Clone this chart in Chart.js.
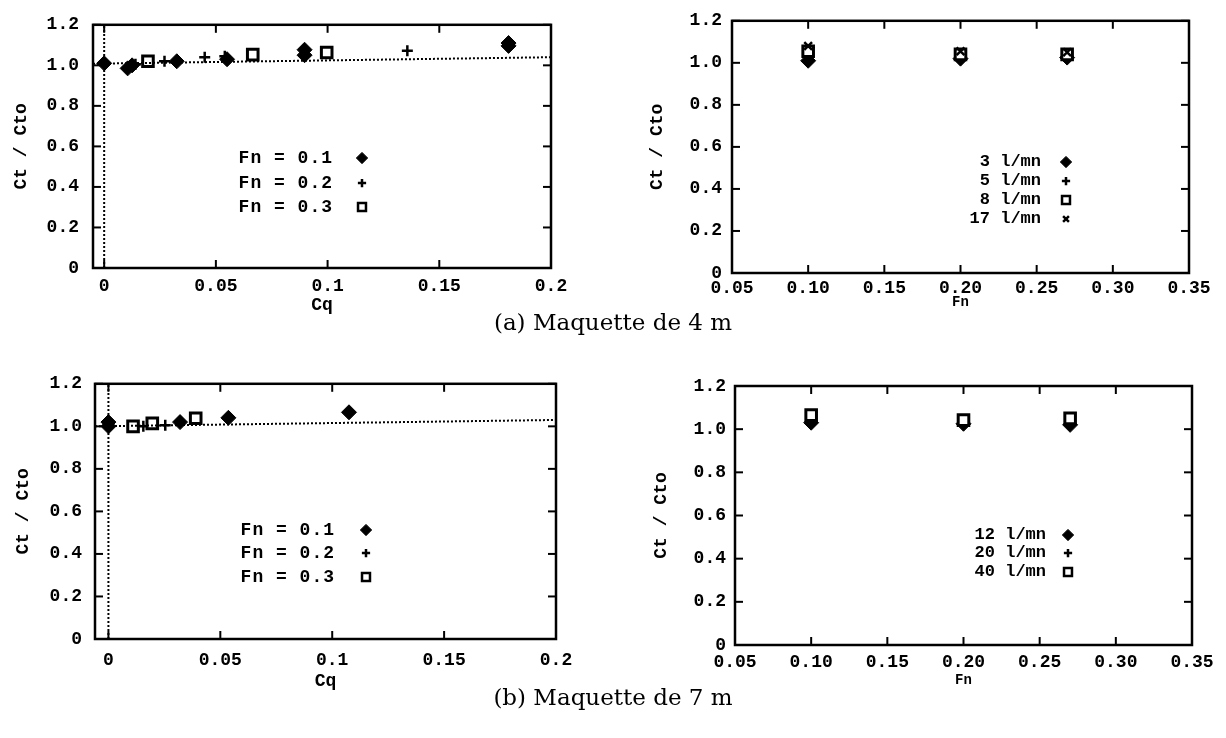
<!DOCTYPE html>
<html lang="fr">
<head>
<meta charset="utf-8">
<title>Ct / Cto</title>
<script src="https://cdn.jsdelivr.net/npm/chart.js@4.4.1/dist/chart.umd.min.js"></script>
<style>
  html, body { margin: 0; padding: 0; background: #fff; }
  body { position: relative; width: 1226px; height: 738px; overflow: hidden; }
  canvas { position: absolute; }
  .caption {
    position: absolute; left: 0; width: 1226px; text-align: center;
    font-family: "DejaVu Serif", serif; font-size: 23px; line-height: 1; color: #000;
  }
</style>
</head>
<body>
<canvas id="cq4" width="600" height="316" style="left:0;top:0"></canvas>
<canvas id="fn4" width="626" height="316" style="left:600px;top:0"></canvas>
<div class="caption" style="top:311px">(a) Maquette de 4 m</div>
<canvas id="cq7" width="600" height="332" style="left:0;top:360px"></canvas>
<canvas id="fn7" width="626" height="332" style="left:600px;top:360px"></canvas>
<div class="caption" style="top:686px">(b) Maquette de 7 m</div>

<script>
const yTicks = [0, 0.2, 0.4, 0.6, 0.8, 1.0, 1.2];
const cqTicks = [0, 0.05, 0.1, 0.15, 0.2];
const cqTickLabels = ["0", "0.05", "0.1", "0.15", "0.2"];
const fnTicks = [0.05, 0.1, 0.15, 0.2, 0.25, 0.3, 0.35];
const fnTickLabels = ["0.05", "0.10", "0.15", "0.20", "0.25", "0.30", "0.35"];

// 4 m model: Ct/Cto against Cq
const cq4Fn1 = [0, 0.0105, 0.0125, 0.0325, 0.055, 0.0897, 0.0897, 0.181, 0.181];
const ct4Fn1 = [1.01, 0.985, 1.0, 1.02, 1.03, 1.05, 1.077, 1.096, 1.11];
const cq4Fn2 = [0, 0.014, 0.027, 0.045, 0.054, 0.1357];
const ct4Fn2 = [1.01, 1.005, 1.02, 1.04, 1.045, 1.072];
const cq4Fn3 = [0.0196, 0.0665, 0.0996];
const ct4Fn3 = [1.02, 1.053, 1.063];
const trend4Cq = [-0.005, 0.2];
const trend4Ct = [1.008, 1.04];

// 7 m model: Ct/Cto against Cq
const cq7Fn1 = [0, 0, 0.032, 0.0536, 0.1075];
const ct7Fn1 = [1.0, 1.02, 1.02, 1.04, 1.066];
const cq7Fn2 = [0.0156, 0.0254];
const ct7Fn2 = [1.0, 1.005];
const cq7Fn3 = [0.011, 0.0196, 0.039];
const ct7Fn3 = [1.0, 1.014, 1.038];
const trend7Cq = [-0.006, 0.2];
const trend7Ct = [1.0, 1.03];

const zeroCq = [0, 0];
const zeroCt = [0, 1.2];

// Ct/Cto against Fn, one series per flow rate
const fnRuns = [0.10, 0.20, 0.27];
const ct4Q3 = [1.01, 1.02, 1.025];
const ct4Q5 = [1.035, 1.03, 1.035];
const ct4Q8 = [1.055, 1.04, 1.04];
const ct4Q17 = [1.08, 1.055, 1.05];
const ct7Q12 = [1.03, 1.025, 1.02];
const ct7Q20 = [1.045, 1.035, 1.035];
const ct7Q40 = [1.065, 1.042, 1.05];

const MONO = '"Liberation Mono", "DejaVu Sans Mono", monospace';
Chart.defaults.font.family = MONO;
Chart.defaults.color = "#000";

const markers = {
  diamond: { pointStyle: "rectRot", pointRadius: 7.5, pointBorderWidth: 1, pointBackgroundColor: "#000", pointBorderColor: "#000" },
  plus: { pointStyle: "cross", pointRadius: 5.5, pointBorderWidth: 2.5, pointBackgroundColor: "#000", pointBorderColor: "#000" },
  box: { pointStyle: "rect", pointRadius: 7.5, pointBorderWidth: 3, pointBackgroundColor: "#fff", pointBorderColor: "#000" },
  cross: { pointStyle: "crossRot", pointRadius: 5.5, pointBorderWidth: 2.5, pointBackgroundColor: "#000", pointBorderColor: "#000" }
};

function pairs(xs, ys) {
  return xs.map((x, i) => ({ x, y: ys[i] }));
}

function series(label, xs, ys, marker) {
  return Object.assign({ label, data: pairs(xs, ys), showLine: false, inKey: true }, markers[marker]);
}

function dottedLine(xs, ys) {
  return {
    data: pairs(xs, ys),
    showLine: true,
    borderColor: "#000",
    borderWidth: 2,
    borderDash: [2, 2],
    pointRadius: 0,
    inKey: false
  };
}

function strokeLine(ctx, x1, y1, x2, y2) {
  ctx.beginPath();
  ctx.moveTo(x1, y1);
  ctx.lineTo(x2, y2);
  ctx.stroke();
}

// box around the plot with inward tick marks on all four sides
const framePlugin = {
  id: "frame",
  afterDraw(chart) {
    const { ctx, chartArea: a, scales } = chart;
    const len = 8;
    ctx.save();
    ctx.strokeStyle = "#000";
    ctx.lineWidth = 2;
    scales.x.ticks.forEach((t) => {
      const px = scales.x.getPixelForValue(t.value);
      strokeLine(ctx, px, a.bottom, px, a.bottom - len);
      strokeLine(ctx, px, a.top, px, a.top + len);
    });
    scales.y.ticks.forEach((t) => {
      const py = scales.y.getPixelForValue(t.value);
      strokeLine(ctx, a.left, py, a.left + len, py);
      strokeLine(ctx, a.right, py, a.right - len, py);
    });
    ctx.lineWidth = 2.5;
    ctx.strokeRect(a.left, a.top, a.right - a.left, a.bottom - a.top);
    ctx.restore();
  }
};

// key inside the plot: label text then its marker
const keyPlugin = {
  id: "key",
  afterDraw(chart, args, opts) {
    const { ctx } = chart;
    const items = chart.data.datasets.filter((d) => d.inKey);
    ctx.save();
    ctx.font = `bold ${opts.fontSize}px ${MONO}`;
    ctx.letterSpacing = opts.spacing || "0px";
    ctx.textAlign = "right";
    ctx.textBaseline = "middle";
    items.forEach((d, i) => {
      const y = opts.rowY[i];
      ctx.fillStyle = "#000";
      ctx.fillText(d.label, opts.textRight, y);
      ctx.fillStyle = d.pointBackgroundColor;
      ctx.strokeStyle = d.pointBorderColor;
      ctx.lineWidth = d.pointStyle === "rect" ? 2.5 : d.pointBorderWidth;
      Chart.helpers.drawPoint(ctx, {
        pointStyle: d.pointStyle,
        radius: d.pointRadius * 0.75,
        borderWidth: d.pointBorderWidth,
        rotation: 0
      }, opts.markerX, y);
    });
    ctx.restore();
  }
};

function makePanel(id, cfg) {
  return new Chart(document.getElementById(id), {
    type: "scatter",
    data: { datasets: cfg.datasets },
    options: {
      responsive: false,
      animation: false,
      events: [],
      layout: { padding: cfg.padding },
      plugins: {
        legend: { display: false },
        tooltip: { enabled: false },
        key: cfg.key
      },
      scales: {
        x: {
          type: "linear",
          min: cfg.xMin,
          max: cfg.xMax,
          grid: { display: false, drawTicks: false },
          border: { display: false },
          afterBuildTicks: (s) => { s.ticks = cfg.xTicks.map((v) => ({ value: v })); },
          afterFit: (s) => { s.height = cfg.xHeight; },
          ticks: {
            autoSkip: false,
            maxRotation: 0,
            padding: cfg.xTickPad,
            font: { size: 18, weight: "bold" },
            callback: (v, i) => cfg.xLabels[i]
          },
          title: {
            display: true,
            text: cfg.xTitle,
            font: { size: cfg.xTitleSize, weight: "bold" },
            padding: { top: 0, bottom: cfg.xTitlePad }
          }
        },
        y: {
          type: "linear",
          min: 0,
          max: 1.2,
          grid: { display: false, drawTicks: false },
          border: { display: false },
          afterBuildTicks: (s) => { s.ticks = yTicks.map((v) => ({ value: v })); },
          afterFit: (s) => { s.width = cfg.yWidth; },
          ticks: {
            padding: cfg.yTickPad,
            font: { size: 18, weight: "bold" },
            callback: (v) => (v === 0 ? "0" : v.toFixed(1))
          },
          title: {
            display: true,
            text: "Ct / Cto",
            font: { size: 18, weight: "bold" },
            padding: { top: cfg.yTitlePad, bottom: 0 }
          }
        }
      }
    },
    plugins: [framePlugin, keyPlugin]
  });
}

makePanel("cq4", {
  datasets: [
    dottedLine(trend4Cq, trend4Ct),
    dottedLine(zeroCq, zeroCt),
    series("Fn = 0.3", cq4Fn3, ct4Fn3, "box"),
    series("Fn = 0.2", cq4Fn2, ct4Fn2, "plus"),
    series("Fn = 0.1", cq4Fn1, ct4Fn1, "diamond")
  ],
  xMin: -0.005, xMax: 0.2, xTicks: cqTicks, xLabels: cqTickLabels,
  xTitle: "Cq", xTitleSize: 18, xTitlePad: 0, xTickPad: 8, xHeight: 48,
  yWidth: 93, yTickPad: 14, yTitlePad: 11,
  padding: { top: 14, right: 49, bottom: 0, left: 0 },
  key: { fontSize: 18, spacing: "1px", textRight: 333, markerX: 362, rowY: [207, 183, 158] }
});

makePanel("fn4", {
  datasets: [
    series("17 l/mn", fnRuns, ct4Q17, "cross"),
    series("8 l/mn", fnRuns, ct4Q8, "box"),
    series("5 l/mn", fnRuns, ct4Q5, "plus"),
    series("3 l/mn", fnRuns, ct4Q3, "diamond")
  ],
  xMin: 0.05, xMax: 0.35, xTicks: fnTicks, xLabels: fnTickLabels,
  xTitle: "Fn", xTitleSize: 14, xTitlePad: 5, xTickPad: 5, xHeight: 43,
  yWidth: 132, yTickPad: 10, yTitlePad: 47,
  padding: { top: 14, right: 37, bottom: 0, left: 0 },
  key: { fontSize: 17, textRight: 441, markerX: 466, rowY: [219, 200, 181, 162] }
});

makePanel("cq7", {
  datasets: [
    dottedLine(trend7Cq, trend7Ct),
    dottedLine(zeroCq, zeroCt),
    series("Fn = 0.3", cq7Fn3, ct7Fn3, "box"),
    series("Fn = 0.2", cq7Fn2, ct7Fn2, "plus"),
    series("Fn = 0.1", cq7Fn1, ct7Fn1, "diamond")
  ],
  xMin: -0.006, xMax: 0.2, xTicks: cqTicks, xLabels: cqTickLabels,
  xTitle: "Cq", xTitleSize: 18, xTitlePad: 0, xTickPad: 11, xHeight: 53,
  yWidth: 95, yTickPad: 13, yTitlePad: 13,
  padding: { top: 23, right: 44, bottom: 0, left: 0 },
  key: { fontSize: 18, spacing: "1px", textRight: 335, markerX: 366, rowY: [217, 193, 170] }
});

makePanel("fn7", {
  datasets: [
    series("40 l/mn", fnRuns, ct7Q40, "box"),
    series("20 l/mn", fnRuns, ct7Q20, "plus"),
    series("12 l/mn", fnRuns, ct7Q12, "diamond")
  ],
  xMin: 0.05, xMax: 0.35, xTicks: fnTicks, xLabels: fnTickLabels,
  xTitle: "Fn", xTitleSize: 14, xTitlePad: 3, xTickPad: 7, xHeight: 47,
  yWidth: 135, yTickPad: 9, yTitlePad: 51,
  padding: { top: 26, right: 34, bottom: 0, left: 0 },
  key: { fontSize: 17, textRight: 446, markerX: 468, rowY: [212, 193, 175] }
});
</script>
</body>
</html>
